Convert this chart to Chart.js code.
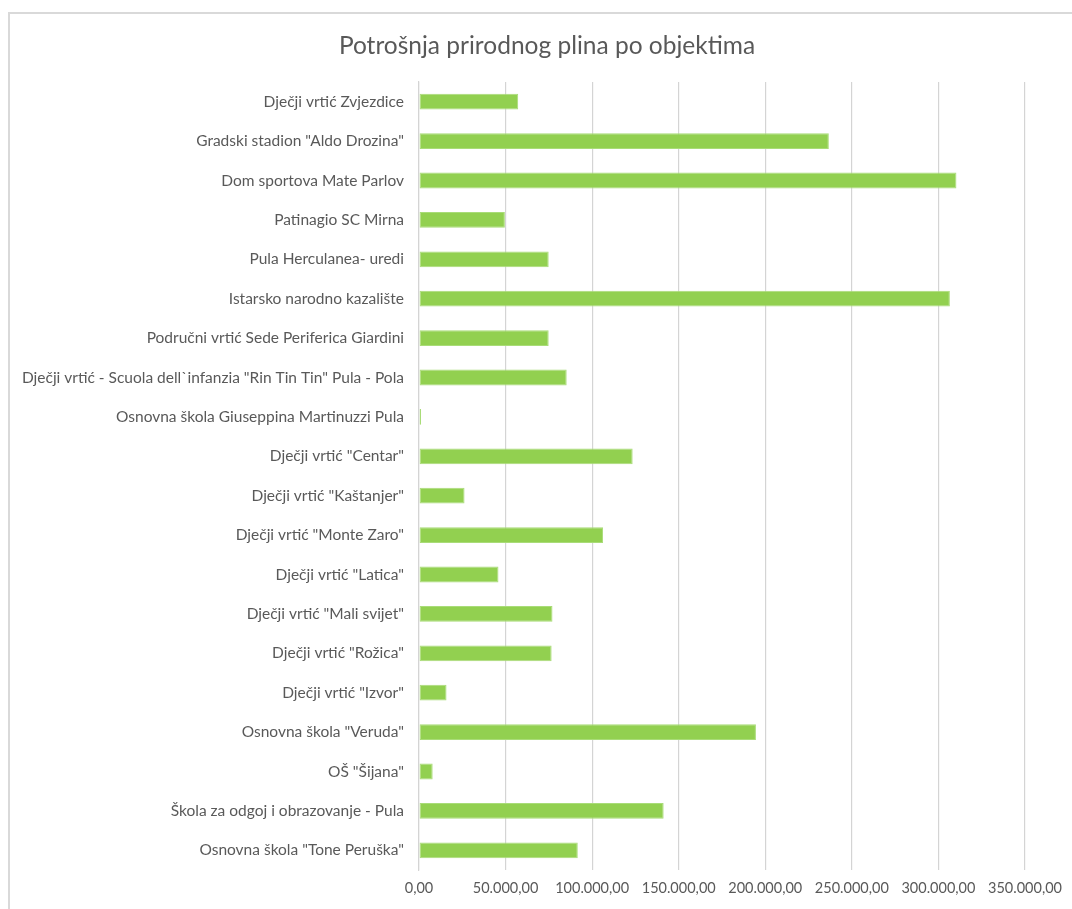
<!DOCTYPE html>
<html>
<head>
<meta charset="utf-8">
<script src="https://cdn.jsdelivr.net/npm/chart.js@4/dist/chart.umd.min.js"></script>
<style>
  html, body { margin: 0; padding: 0; background: #fff; overflow: hidden; }
  #frame { position: absolute; left: 8px; top: 12px; width: 1100px; height: 940px; border: 2px solid #d9d9d9; box-sizing: border-box; }
  #wrap { position: absolute; left: 0; top: 0; width: 1072px; height: 909px; }
  #title { position: absolute; left: 8px; top: 29px; width: 1078px; text-align: center;
           font-family: Lato, "Open Sans", sans-serif; font-size: 24.5px; line-height: 32px; color: #595959; }
</style>
</head>
<body>
<div id="frame"></div>
<div id="wrap"><canvas id="c" width="1072" height="909"></canvas></div>
<div id="title"></div>
<script>
const categories = [
  'Dječji vrtić Zvjezdice',
  'Gradski stadion "Aldo Drozina"',
  'Dom sportova Mate Parlov',
  'Patinagio SC Mirna',
  'Pula Herculanea- uredi',
  'Istarsko narodno kazalište',
  'Područni vrtić Sede Periferica Giardini',
  'Dječji vrtić - Scuola dell`infanzia "Rin Tin Tin" Pula - Pola',
  'Osnovna škola Giuseppina Martinuzzi Pula',
  'Dječji vrtić "Centar"',
  'Dječji vrtić "Kaštanjer"',
  'Dječji vrtić "Monte Zaro"',
  'Dječji vrtić "Latica"',
  'Dječji vrtić "Mali svijet"',
  'Dječji vrtić "Rožica"',
  'Dječji vrtić "Izvor"',
  'Osnovna škola "Veruda"',
  'OŠ "Šijana"',
  'Škola za odgoj i obrazovanje - Pula',
  'Osnovna škola "Tone Peruška"'
];
const consumption = [
  57300, 236700, 310400, 49600, 74900, 306600, 74900, 85300, 1200, 123400,
  26300, 106300, 45900, 77100, 76600, 15900, 194600, 7900, 141300, 91700
];
const tickLabels = ['0,00', '50.000,00', '100.000,00', '150.000,00', '200.000,00', '250.000,00', '300.000,00', '350.000,00'];
const chartTitle = 'Potrošnja prirodnog plina po objektima';

document.getElementById('title').textContent = chartTitle;

const FONT = 'Lato, "Open Sans", sans-serif';
const TEXT = '#595959';

new Chart(document.getElementById('c'), {
  type: 'bar',
  data: {
    labels: categories,
    datasets: [{
      data: consumption,
      backgroundColor: '#92D050',
      borderColor: '#A9DC78',
      borderWidth: 1,
      borderSkipped: false,
      categoryPercentage: 1.0,
      barPercentage: 0.4
    }]
  },
  options: {
    indexAxis: 'y',
    responsive: false,
    animation: false,
    layout: { padding: { left: 0, right: 47, top: 82, bottom: 0 } },
    plugins: {
      legend: { display: false },
      tooltip: { enabled: false },
      title: { display: false }
    },
    scales: {
      x: {
        min: 0,
        max: 350000,
        ticks: {
          stepSize: 50000,
          color: TEXT,
          font: { family: FONT, size: 14.5 },
          padding: 10,
          maxRotation: 0,
          autoSkip: false,
          callback: (v, i) => tickLabels[i]
        },
        grid: { color: '#d4d4d4', lineWidth: 1.2, drawTicks: false },
        border: { display: false },
        afterFit: (s) => { s.height = 39; }
      },
      y: {
        ticks: {
          color: TEXT,
          font: { family: FONT, size: 15.5 },
          padding: 15,
          autoSkip: false
        },
        grid: { display: false, drawTicks: false },
        border: { display: true, color: '#d4d4d4', width: 1.2 },
        afterFit: (s) => { s.width = 419; }
      }
    }
  }
});
</script>
</body>
</html>
